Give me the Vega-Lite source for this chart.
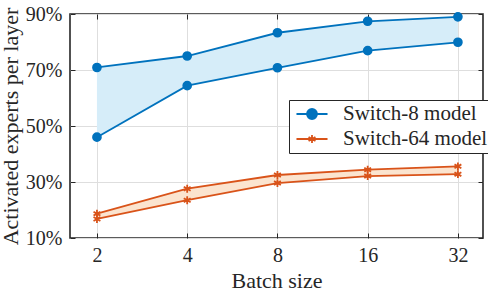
{
  "$schema": "https://vega.github.io/schema/vega-lite/v6.json",
  "autosize": {"type": "none"},
  "width": 413,
  "height": 224,
  "padding": {"left": 70, "top": 14, "right": 5, "bottom": 52},
  "background": "white",
  "config": {
    "font": "Liberation Serif",
    "view": {"stroke": "#262626", "strokeWidth": 1.6},
    "axis": {
      "labelFont": "Liberation Serif",
      "titleFont": "Liberation Serif",
      "labelFontSize": 20,
      "titleFontSize": 22,
      "titleFontWeight": "normal",
      "labelColor": "#262626",
      "titleColor": "#262626",
      "tickColor": "#262626",
      "domain": false,
      "gridColor": "#dedede",
      "gridWidth": 1
    },
    "legend": {
      "labelFont": "Liberation Serif",
      "labelFontSize": 21,
      "labelColor": "#262626"
    }
  },
  "resolve": {"axis": {"x": "independent", "y": "independent"}},
  "data": {
    "values": [
      {"batch": 2, "model": "Switch-8 model", "lower": 46, "upper": 70.9},
      {"batch": 4, "model": "Switch-8 model", "lower": 64.4, "upper": 75},
      {"batch": 8, "model": "Switch-8 model", "lower": 70.8, "upper": 83.3},
      {"batch": 16, "model": "Switch-8 model", "lower": 76.9, "upper": 87.4},
      {"batch": 32, "model": "Switch-8 model", "lower": 79.9, "upper": 89},
      {"batch": 2, "model": "Switch-64 model", "lower": 16.8, "upper": 18.7},
      {"batch": 4, "model": "Switch-64 model", "lower": 23.5, "upper": 27.6},
      {"batch": 8, "model": "Switch-64 model", "lower": 29.6, "upper": 32.5},
      {"batch": 16, "model": "Switch-64 model", "lower": 32.1, "upper": 34.4},
      {"batch": 32, "model": "Switch-64 model", "lower": 32.8, "upper": 35.6}
    ]
  },
  "layer": [
    {
      "mark": {"type": "area", "opacity": 1},
      "encoding": {
        "x": {
          "field": "batch", "type": "quantitative",
          "scale": {"type": "log", "base": 2, "domain": [1.626, 38.8], "nice": false},
          "axis": {"values": [2, 4, 8, 16, 32], "title": "Batch size", "grid": true, "tickSize": -5, "labelPadding": 12, "titlePadding": 5,
            "encode": {"labels": {"update": {"font": {"value": "Liberation Serif"}}}}}
        },
        "y": {
          "field": "lower", "type": "quantitative",
          "scale": {"domain": [10, 90], "nice": false, "zero": false},
          "axis": {"values": [10, 30, 50, 70, 90], "labelExpr": "datum.value + '%'", "title": "Activated experts per layer", "grid": true, "tickSize": -5, "labelPadding": 13, "titlePadding": 3,
            "encode": {"labels": {"update": {"font": {"value": "Liberation Serif"}}}}}
        },
        "y2": {"field": "upper"},
        "color": {
          "field": "model", "type": "nominal",
          "scale": {"domain": ["Switch-64 model", "Switch-8 model"], "range": ["#fbe4cf", "#d6edf9"]},
          "legend": null
        }
      }
    },
    {
      "mark": {"type": "line", "strokeWidth": 1.8},
      "encoding": {
        "x": {"field": "batch", "type": "quantitative", "scale": {"type": "log", "base": 2, "domain": [1.626, 38.8], "nice": false}, "axis": {"orient": "top", "values": [2, 4, 8, 16, 32], "labels": false, "title": null, "grid": false, "tickSize": -5}},
        "y": {"field": "upper", "type": "quantitative", "scale": {"domain": [10, 90], "nice": false, "zero": false}, "axis": {"orient": "right", "values": [10, 30, 50, 70, 90], "labels": false, "title": null, "grid": false, "tickSize": -5}},
        "stroke": {
          "field": "model", "type": "nominal",
          "scale": {"domain": ["Switch-8 model", "Switch-64 model"], "range": ["#0072BD", "#D95319"]},
          "legend": {
            "title": null,
            "orient": "none",
            "legendX": 219,
            "legendY": 86,
            "padding": 3.5,
            "rowPadding": 3,
            "strokeColor": "#262626",
            "fillColor": "white",
            "symbolSize": 256,
            "symbolOffset": 9,
            "labelOffset": 20.5,
            "labelFontSize": 21,
            "labelFont": "Liberation Serif",
            "encode": {
              "labels": {"update": {"font": {"value": "Liberation Serif"}}},
              "symbols": {
                "update": {
                  "shape": {"signal": "datum.value == 'Switch-8 model' ? 'M-1.94,0H1.94M-0.625,0A0.625,0.625 0 1,0 0.625,0A0.625,0.625 0 1,0 -0.625,0' : 'M-1.94,0H1.94M0,-0.5V0.5M-0.43,-0.25L0.43,0.25M-0.43,0.25L0.43,-0.25'"},
                  "stroke": {"signal": "datum.value == 'Switch-8 model' ? '#0072BD' : '#D95319'"},
                  "fill": {"signal": "datum.value == 'Switch-8 model' ? '#0072BD' : 'transparent'"},
                  "strokeWidth": {"value": 1.8},
                  "opacity": {"value": 1}
                }
              }
            }
          }
        }
      }
    },
    {
      "mark": {"type": "line", "strokeWidth": 1.8},
      "encoding": {
        "x": {"field": "batch", "type": "quantitative", "axis": null},
        "y": {"field": "lower", "type": "quantitative", "axis": null},
        "stroke": {"field": "model", "type": "nominal"}
      }
    },
    {
      "transform": [{"fold": ["lower", "upper"], "as": ["bound", "val"]}],
      "mark": {"type": "point", "filled": true, "strokeWidth": 1.8, "opacity": 1},
      "encoding": {
        "x": {"field": "batch", "type": "quantitative", "axis": null},
        "y": {"field": "val", "type": "quantitative", "axis": null},
        "shape": {
          "field": "model", "type": "nominal",
          "scale": {"domain": ["Switch-64 model", "Switch-8 model"], "range": ["M0,-1V1M-0.87,-0.5L0.87,0.5M-0.87,0.5L0.87,-0.5", "circle"]},
          "legend": null
        },
        "size": {"value": 62},
        "fill": {
          "field": "model", "type": "nominal",
          "scale": {"domain": ["Switch-64 model", "Switch-8 model"], "range": ["#D95319", "#0072BD"]},
          "legend": null
        },
        "stroke": {"field": "model", "type": "nominal"}
      }
    }
  ]
}
